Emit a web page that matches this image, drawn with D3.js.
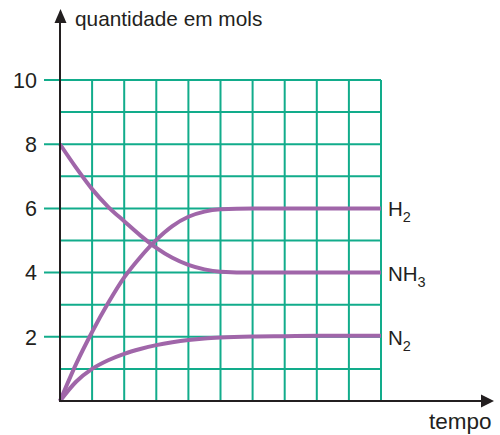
<!DOCTYPE html>
<html>
<head>
<meta charset="utf-8">
<script src="https://cdn.jsdelivr.net/npm/d3@7"></script>
<style>
  html, body { margin: 0; padding: 0; background: #fff; }
  svg { display: block; font-family: "Liberation Sans", Arial, Helvetica, sans-serif; }
</style>
</head>
<body>
<svg id="chart" width="500" height="435"></svg>
<script>
// ---- data ----
const time = [0, 0.5, 1, 1.5, 2, 2.5, 3, 3.5, 4, 4.5, 5, 6, 7, 8, 9, 10];
const h2   = [0, 1.15, 2.15, 3.05, 3.85, 4.48, 5.02, 5.45, 5.74, 5.9, 5.97, 6.0, 6.0, 6.0, 6.0, 6.0];
const nh3  = [8, 7.27, 6.6, 6.05, 5.6, 5.16, 4.77, 4.46, 4.24, 4.1, 4.03, 4.0, 4.0, 4.0, 4.0, 4.0];
const n2   = [0, 0.6, 1.0, 1.27, 1.47, 1.62, 1.74, 1.83, 1.9, 1.95, 1.98, 2.01, 2.02, 2.03, 2.03, 2.03];
const seriesNames = ["H", "NH", "N"];
const seriesSubs = ["2", "3", "2"];
const yTickValues = [2, 4, 6, 8, 10];
const gridValues = [1, 2, 3, 4, 5, 6, 7, 8, 9, 10];
const yTitle = "quantidade em mols";
const xTitle = "tempo";

const svg = d3.select("#chart");
const x = d3.scaleLinear().domain([0, 10]).range([60, 381]);
const y = d3.scaleLinear().domain([0, 10]).range([401, 80]);

const gridColor = "#12ac8b";
const purple = "#a066a9";
const axisColor = "#231f20";

// grid
const grid = svg.append("g");
grid.selectAll("line.h").data(gridValues).join("line")
  .attr("x1", d => yTickValues.includes(d) ? 44 : x(0))
  .attr("x2", x(10))
  .attr("y1", d => y(d)).attr("y2", d => y(d))
  .attr("stroke", gridColor).attr("stroke-width", 2);
grid.selectAll("line.v").data(gridValues).join("line")
  .attr("x1", d => x(d)).attr("x2", d => x(d))
  .attr("y1", y(0)).attr("y2", y(10))
  .attr("stroke", gridColor).attr("stroke-width", 2);

// y tick labels
svg.append("g").selectAll("text").data(yTickValues).join("text")
  .attr("x", 37).attr("y", d => y(d)).attr("dy", "0.36em")
  .attr("text-anchor", "end").attr("font-size", 21.5).attr("fill", "#231f20")
  .text(d => d);

// curves
const line = d3.line().x(d => x(d[0])).y(d => y(d[1])).curve(d3.curveMonotoneX);
const allSeries = [h2, nh3, n2];
svg.append("g").selectAll("path").data(allSeries).join("path")
  .attr("d", s => line(time.map((t, i) => [t, s[i]])))
  .attr("fill", "none").attr("stroke", purple).attr("stroke-width", 4)
  .attr("stroke-linecap", "butt");

// axes
svg.append("line").attr("x1", x(0)).attr("x2", x(0)).attr("y1", y(0) + 1).attr("y2", 22)
  .attr("stroke", axisColor).attr("stroke-width", 2);
svg.append("path").attr("d", "M60.5,9 L66.5,23 L54.5,23 Z").attr("fill", axisColor);
svg.append("line").attr("x1", x(0) - 1).attr("x2", 482).attr("y1", y(0)).attr("y2", y(0))
  .attr("stroke", axisColor).attr("stroke-width", 2);
svg.append("path").attr("d", `M494,${y(0)} L481,${y(0) - 6.5} L481,${y(0) + 6.5} Z`).attr("fill", axisColor);

// titles
svg.append("text").attr("x", 75).attr("y", 26).attr("font-size", 20.8).attr("fill", "#231f20").text(yTitle);
svg.append("text").attr("x", 429).attr("y", 429).attr("font-size", 22.5).attr("fill", "#231f20").text(xTitle);

// series labels
const endVals = allSeries.map(s => s[s.length - 1]);
const lbl = svg.append("g").selectAll("text").data(seriesNames).join("text")
  .attr("x", 388).attr("y", (d, i) => y(Math.round(endVals[i])) + 8)
  .attr("font-size", 20.5).attr("fill", "#231f20");
lbl.append("tspan").text(d => d);
lbl.append("tspan").attr("font-size", 14.5).attr("dy", 6).text((d, i) => seriesSubs[i]);
</script>
</body>
</html>
